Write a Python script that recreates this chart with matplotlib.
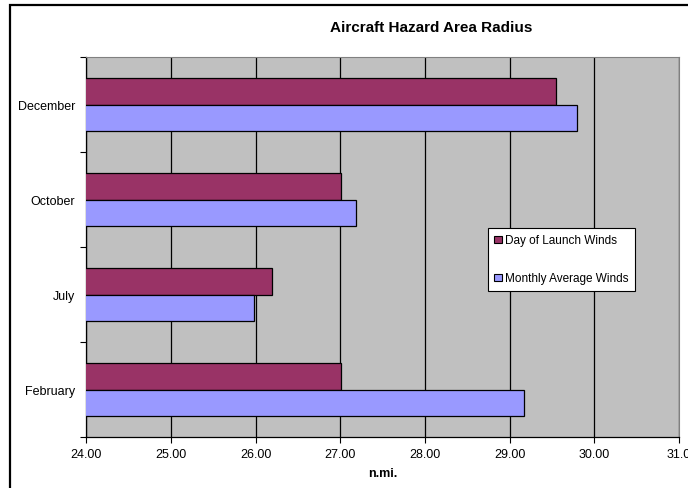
import matplotlib
matplotlib.use("Agg")
import matplotlib.pyplot as plt
import matplotlib.patches as mpatches
import numpy as np

plt.rcParams['font.family'] = ['Liberation Sans', 'DejaVu Sans']

# Data
months = ["February", "July", "October", "December"]
day_of_launch = [27.01, 26.19, 27.01, 29.55]
monthly_avg = [29.17, 25.98, 27.18, 29.79]
x_ticks = [24, 25, 26, 27, 28, 29, 30, 31]
x_tick_labels = ["24.00", "25.00", "26.00", "27.00", "28.00", "29.00", "30.00", "31.0"]

day_color = "#993366"
avg_color = "#9999FF"

fig = plt.figure(figsize=(6.88, 4.89), dpi=100)
fig.patch.set_facecolor("white")

# outer chart frame (cropped at right and bottom)
frame = mpatches.Rectangle((9.5 / 688, -0.1), 1.2, 1 - 5.5 / 489 + 0.1,
                           transform=fig.transFigure, fill=False,
                           edgecolor="black", linewidth=1.6, zorder=0)
fig.patches.append(frame)

ax = fig.add_axes([86.4 / 688, 1 - 438 / 489, (679 - 86.4) / 688, (438 - 58) / 489])
ax.set_facecolor("#C0C0C0")

y = np.arange(len(months))
h = 0.274
ax.barh(y + h / 2, day_of_launch, height=h, left=0, color=day_color,
        edgecolor="black", linewidth=0.9, label="Day of Launch Winds", zorder=3)
ax.barh(y - h / 2, monthly_avg, height=h, left=0, color=avg_color,
        edgecolor="black", linewidth=0.9, label="Monthly Average Winds", zorder=3)

ax.set_xlim(24, 31)
ax.set_ylim(-0.5, len(months) - 0.5)

ax.set_xticks(x_ticks)
ax.set_xticklabels(x_tick_labels, fontsize=9)
ax.xaxis.grid(True, color="black", linewidth=0.9)
ax.set_axisbelow(True)

# category labels at centres, tick marks between categories
ax.set_yticks(y)
ax.set_yticklabels(months, fontsize=9)
ax.tick_params(axis="y", length=0, pad=8)
ax.set_yticks(np.arange(-0.5, len(months)), minor=True)
ax.tick_params(axis="y", which="minor", length=4, width=0.8)
ax.tick_params(axis="x", length=4, width=0.8, pad=4)

for side in ["top", "right"]:
    ax.spines[side].set_color("#808080")
    ax.spines[side].set_linewidth(0.8)
for side in ["left", "bottom"]:
    ax.spines[side].set_color("black")
    ax.spines[side].set_linewidth(0.9)

ax.set_xlabel("n.mi.", fontsize=9, fontweight="bold", labelpad=5)

fig.text(431 / 688, 1 - 28 / 489, "Aircraft Hazard Area Radius",
         ha="center", va="center", fontsize=11, fontweight="bold")

handles = [mpatches.Patch(facecolor=day_color, edgecolor="black", linewidth=0.8),
           mpatches.Patch(facecolor=avg_color, edgecolor="black", linewidth=0.8)]
leg = fig.legend(handles, ["Day of Launch Winds", "Monthly Average Winds"],
                 loc="upper left", bbox_to_anchor=(488 / 688, 1 - 229 / 489),
                 fontsize=8.5, frameon=True, fancybox=False, framealpha=1,
                 edgecolor="black", borderaxespad=0, handlelength=0.6,
                 handleheight=0.6, handletextpad=0.3, labelspacing=2.2,
                 borderpad=0.55)
leg.get_frame().set_linewidth(0.8)

fig.savefig("out.png", dpi=100)
